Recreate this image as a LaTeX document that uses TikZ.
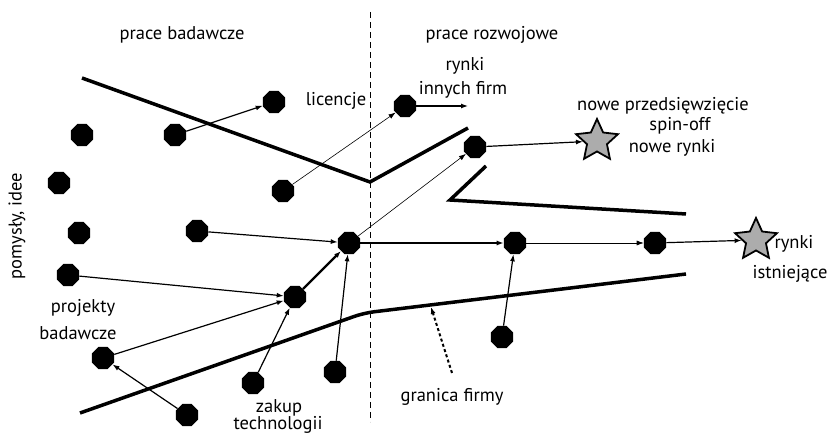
\documentclass[tikz,border=0pt]{standalone}
\usepackage{fontspec}
\setmainfont{PT Sans}
\usetikzlibrary{arrows.meta,shapes.geometric}

\begin{document}
\begin{tikzpicture}[x=1pt,y=-1pt,>={Latex[length=7pt,width=5pt]},
  font=\fontsize{18.5}{21}\selectfont]
  \tikzstyle{idea}=[regular polygon,regular polygon sides=8,fill=black,
    draw=none,minimum size=24pt,inner sep=0pt]
  \tikzstyle{market}=[star,star points=5,star point ratio=2.1,fill=gray!65,
    draw=black,line width=1.8pt,minimum size=44pt,inner sep=0pt]
  \tikzstyle{border}=[line width=3.5pt]
  \tikzstyle{thin flow}=[->,line width=0.6pt]
  \tikzstyle{flow}=[->,line width=1.2pt]
  \tikzstyle{main flow}=[->,line width=2.2pt]

  \useasboundingbox (0,0) rectangle (830,435);

  % research / development divide
  \draw[dashed,dash pattern=on 6pt off 4pt,line width=0.6pt] (370,12) -- (370,422);

  % firm boundary
  \draw[border] (82,78) -- (370,182) -- (468,128);
  \draw[border] (486,166) -- (450,200) -- (686,214);
  \draw[border,rounded corners=10pt] (80,413) -- (364,313) -- (686,274);

  % ideas and projects
  \node[idea] (i1)  at (274,102) {};
  \node[idea] (i2)  at (82,135)  {};
  \node[idea] (i3)  at (175,135) {};
  \node[idea] (i4)  at (59,183)  {};
  \node[idea] (i5)  at (283,191) {};
  \node[idea] (i6)  at (405,106) {};
  \node[idea] (i7)  at (475,147) {};
  \node[idea] (i8)  at (79,233)  {};
  \node[idea] (i9)  at (197,231) {};
  \node[idea] (i10) at (349,243) {};
  \node[idea] (i11) at (68,275)  {};
  \node[idea] (i12) at (295,297) {};
  \node[idea] (i13) at (103,358) {};
  \node[idea] (i14) at (253,383) {};
  \node[idea] (i15) at (335,372) {};
  \node[idea] (i16) at (187,415) {};
  \node[idea] (i17) at (515,243) {};
  \node[idea] (i18) at (655,243) {};
  \node[idea] (i19) at (502,337) {};

  \node[market] (new)  at (597,141) {};
  \node[market] (old)  at (756,240) {};
  \coordinate (otherfirms) at (468,106);

  % labels
  \node at (182,35)  {prace badawcze};
  \node at (492,35)  {prace rozwojowe};
  \node[rotate=90] at (17,226) {pomysły, idee};
  \node at (336,101) {licencje};
  \node at (465,66)  {rynki};
  \node at (463,90)  {innych firm};
  \node at (663,106) {nowe przedsięwzięcie};
  \node at (680,126) {spin-off};
  \node at (672,148) {nowe rynki};
  \node at (794,244) {rynki};
  \node at (790,274) {istniejące};
  \node at (83,308)  {projekty};
  \node at (78,333)  {badawcze};
  \node at (279,408) {zakup};
  \node at (278,425) {technologii};
  \node (granica) at (452,397) {granica firmy};

  \path (i3)  edge[flow]      (i1)
        (i5)  edge[thin flow] (i6)
        (i6)  edge[flow]      (otherfirms)
        (i10) edge[thin flow] (i7)
        (i7)  edge[flow]      (new)
        (i9)  edge[flow]      (i10)
        (i11) edge[flow]      (i12)
        (i13) edge[flow]      (i12)
        (i16) edge[flow]      (i13)
        (i14) edge[flow]      (i12)
        (i15) edge[flow]      (i10)
        (i12) edge[main flow] (i10)
        (i10) edge[main flow] (i17)
        (i17) edge[thin flow] (i18)
        (i18) edge[flow]      (old)
        (i19) edge[flow]      (i17)
        ;

  \coordinate (gate) at (431,307);
  \draw[->,dash pattern=on 3pt off 2.5pt,line width=2pt] (granica.north) ++(0,-12) -- (gate);
\end{tikzpicture}
\end{document}
